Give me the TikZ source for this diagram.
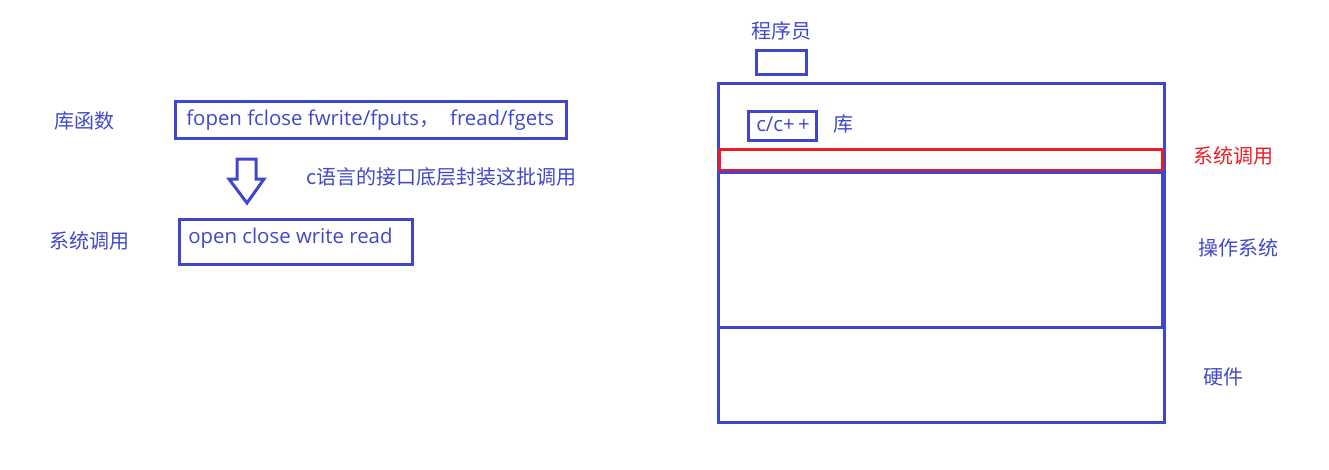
\documentclass[tikz,border=0pt]{standalone}
\usepackage{fontspec}
\setmainfont{Noto Sans CJK SC}
\newfontfamily\latinfont{Open Sans}
\usepackage{tikz}

\definecolor{paintblue}{RGB}{63,72,204}
\definecolor{paintred}{RGB}{237,28,36}

\tikzset{
	frame/.style = {draw = paintblue, line width = 2.25pt},
	redframe/.style = {draw = paintred, line width = 2.25pt},
	tag/.style = {text = paintblue, inner sep = 0pt},
	code/.style = {tag, anchor = west, font = \latinfont\fontsize{15.3pt}{18pt}\selectfont},
}

\begin{document}
\begin{tikzpicture}[x = 0.75pt, y = -0.75pt, font = \fontsize{15pt}{18pt}\selectfont]

	% Page size (pixels of the original sketch)
	
	\useasboundingbox (0, 0) rectangle (1329, 469);
	
	% Left side: library functions over system calls
	
	\node [tag] (libname) at (84, 121) {库函数};
	\draw [frame] (175, 101) rectangle (566, 138);
	\node [code] (libcalls) at (186, 120) {fopen fclose fwrite/fputs{\rmfamily，}\ \ fread/fgets};
	
	\draw [frame, line join = miter] (237, 159) -- (256, 159) -- (256, 179) -- (264, 179)
		-- (247, 203) -- (229, 179) -- (237, 179) -- cycle;
	\node [tag, anchor = west] (wrapnote) at (306, 177) {c语言的接口底层封装这批调用};
	
	\node [tag] (sysname) at (89, 241) {系统调用};
	\draw [frame] (179, 219) rectangle (412, 264);
	\node [code] (syscalls) at (188, 238) {open close write read};
	
	% Right side: layers from programmer down to hardware
	
	\node [tag] (coder) at (781, 31) {程序员};
	\draw [frame] (756, 50) rectangle (806, 74);
	
	\draw [frame] (718, 83) rectangle (1164, 422);
	\draw [frame] (748, 111) rectangle (816, 140);
	\node [code] (clang) at (756, 124) {c/c+\,+};
	\node [tag] (libword) at (843, 124) {库};
	
	\draw [redframe] (719, 149) rectangle (1162, 170);
	\node [tag, text = paintred] (syslayer) at (1233, 156) {系统调用};
	
	\draw [frame] (718, 172) rectangle (1162, 327);
	\node [tag] (oslayer) at (1238, 248) {操作系统};
	
	\node [tag] (hwlayer) at (1223, 377) {硬件};

\end{tikzpicture}
\end{document}
